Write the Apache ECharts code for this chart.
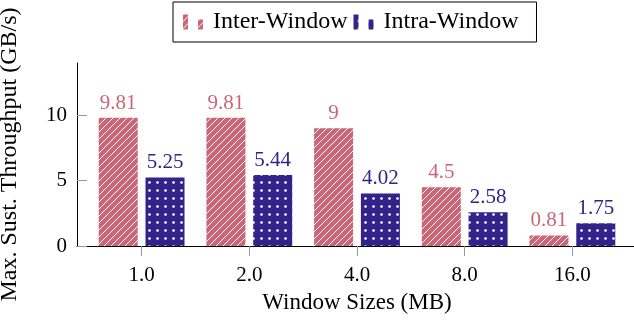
<!DOCTYPE html>
<html>
<head>
<meta charset="utf-8">
<script src="https://cdn.jsdelivr.net/npm/echarts@6/dist/echarts.min.js"></script>
<style>
  html, body { margin: 0; padding: 0; background: #fff; }
  #chart { width: 634px; height: 327px; }
</style>
</head>
<body>
<div id="chart"></div>
<script>
// Window sizes on the x axis and sustained throughput per mode
const windowSizes = ['1.0', '2.0', '4.0', '8.0', '16.0'];
const interWindow = [9.81, 9.81, 9, 4.5, 0.81];
const intraWindow = [5.25, 5.44, 4.02, 2.58, 1.75];
const yTicks = [0, 5, 10];

const ROSE = '#CC6677';
const INDIGO = '#332288';
const FONT = 'Liberation Serif';

// Diagonal white hatching on rose
function hatchPattern() {
  const s = 7;
  const c = document.createElement('canvas');
  c.width = s; c.height = s;
  const g = c.getContext('2d');
  g.fillStyle = ROSE;
  g.fillRect(0, 0, s, s);
  g.strokeStyle = '#ffffff';
  g.lineWidth = 1;
  g.beginPath();
  g.moveTo(-1, s + 1); g.lineTo(s + 1, -1);
  g.moveTo(-1, 1); g.lineTo(1, -1);
  g.moveTo(s - 1, s + 1); g.lineTo(s + 1, s - 1);
  g.stroke();
  return c;
}

// White dot grid on indigo
function dotPattern() {
  const s = 8;
  const c = document.createElement('canvas');
  c.width = s; c.height = s;
  const g = c.getContext('2d');
  g.fillStyle = INDIGO;
  g.fillRect(0, 0, s, s);
  g.fillStyle = '#ffffff';
  g.beginPath();
  g.arc(5.5, 6.5, 1.35, 0, Math.PI * 2);
  g.fill();
  return c;
}

const hatchFill = { image: hatchPattern(), repeat: 'repeat' };
const dotFill = { image: dotPattern(), repeat: 'repeat' };

const positions = windowSizes.map((_, i) => i + 1);
const toPairs = vals => vals.map((v, i) => [positions[i], v]);

const legendIcon = 'path://M0,0H5V15H0Z M15,5H20V15H15Z';

const chart = echarts.init(document.getElementById('chart'), null, { renderer: 'canvas' });

chart.setOption({
  animation: false,
  backgroundColor: '#ffffff',
  textStyle: { fontFamily: FONT },
  grid: { left: 77, top: 63, width: 560, height: 183, outerBoundsMode: 'none', containLabel: false },
  legend: {
    left: 173,
    top: 2,
    orient: 'horizontal',
    itemWidth: 20,
    itemHeight: 15,
    itemGap: 6,
    padding: [8, 18, 8, 10],
    borderColor: '#000',
    borderWidth: 1,
    backgroundColor: '#fff',
    textStyle: { fontFamily: FONT, fontSize: 24, color: '#000', padding: [6, 0, 0, 5] },
    data: [
      { name: 'Inter-Window', icon: legendIcon },
      { name: 'Intra-Window', icon: legendIcon }
    ]
  },
  xAxis: {
    type: 'value',
    min: 0.4,
    max: 5.6,
    name: 'Window Sizes (MB)',
    nameLocation: 'middle',
    nameGap: 45,
    nameTextStyle: { fontFamily: FONT, fontSize: 23, color: '#000' },
    axisLine: { show: true, lineStyle: { color: '#000', width: 1 } },
    axisTick: { show: true, inside: false, length: 10, customValues: positions, lineStyle: { color: '#999' } },
    axisLabel: {
      customValues: positions,
      formatter: v => windowSizes[Math.round(v) - 1] || '',
      fontFamily: FONT, fontSize: 21, color: '#000', margin: 19
    },
    splitLine: { show: false }
  },
  yAxis: {
    type: 'value',
    min: 0,
    max: 14,
    name: 'Max. Sust. Throughput (GB/s)',
    nameLocation: 'middle',
    nameGap: 55,
    nameTextStyle: { fontFamily: FONT, fontSize: 24, color: '#000' },
    axisLine: { show: true, lineStyle: { color: '#000', width: 1 } },
    axisTick: { show: true, inside: true, length: 10, customValues: yTicks, lineStyle: { color: '#999' } },
    axisLabel: { customValues: yTicks, fontFamily: FONT, fontSize: 21, color: '#000', margin: 10 },
    splitLine: { show: false }
  },
  series: [
    {
      name: 'Inter-Window',
      type: 'bar',
      data: toPairs(interWindow),
      barWidth: 39,
      barGap: '20%',
      itemStyle: { color: hatchFill },
      label: { show: true, position: 'top', distance: 4, color: ROSE, fontFamily: FONT, fontSize: 21,
               formatter: p => String(p.value[1]) }
    },
    {
      name: 'Intra-Window',
      type: 'bar',
      data: toPairs(intraWindow),
      barWidth: 39,
      barGap: '20%',
      itemStyle: { color: dotFill },
      label: { show: true, position: 'top', distance: 4, color: INDIGO, fontFamily: FONT, fontSize: 21,
               formatter: p => String(p.value[1]) }
    }
  ]
});
</script>
</body>
</html>
